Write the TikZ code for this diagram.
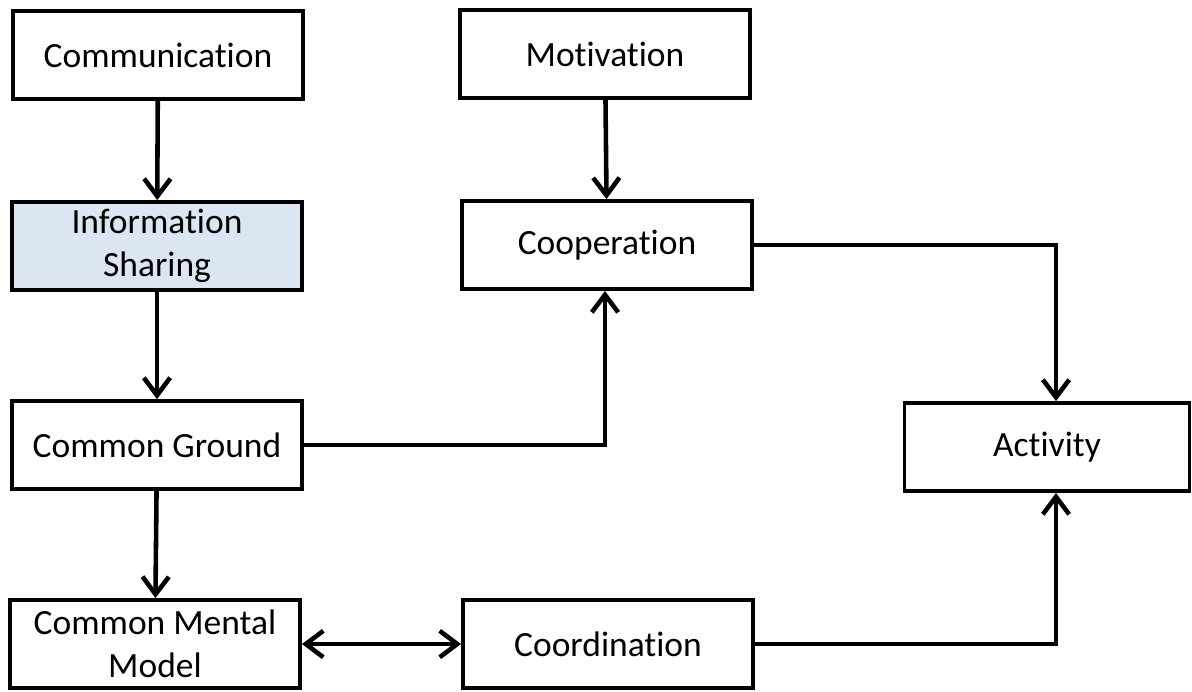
\documentclass[tikz,border=0pt]{standalone}
\usepackage{fontspec}
\setmainfont[Ligatures=NoCommon]{Carlito}
\usetikzlibrary{arrows.meta}
\tikzset{
    box/.style={rectangle,draw,line width=2.2pt,minimum width=5.8cm,minimum height=1.76cm,
        align=center,font=\fontsize{20.2}{24.5}\selectfont,inner sep=2pt},
    link/.style={line width=2.6pt,-{Straight Barb[length=10pt,width=15pt,line width=2.6pt]}},
    links/.style={line width=2.6pt,{Straight Barb[length=10pt,width=15pt,line width=2.6pt]}-{Straight Barb[length=10pt,width=15pt,line width=2.6pt]}}
}
\definecolor{sharefill}{HTML}{DCE6F2}
\begin{document}
\begin{tikzpicture}[x=0.02cm, y=-0.02cm]
    \useasboundingbox (0,0) rectangle (1192,691);
    % Left column
    \node[box] (comm) at (158,55) {Communication};
    \node[box,fill=sharefill] (share) at (157,246) {Information\\Sharing};
    \node[box] (ground) at (157,445) {Common Ground};
    \node[box] (mental) at (155,644) {Common Mental\\Model};
    % Middle column
    \node[box] (motiv) at (605,54) {Motivation};
    \node[box] (coop) at (607,245) {Cooperation};
    \node[box] (coord) at (608,644) {Coordination};
    % Right
    \node[box,minimum width=5.7cm] (act) at (1047,447) {Activity};
    % Edges
    \draw[link] (comm) -- (share);
    \draw[link] (share) -- (ground);
    \draw[link] (ground) -- (mental);
    \draw[link] (motiv) -- (coop);
    \draw[links] (mental) -- (coord);
    \draw[link] (ground.east) -| ([xshift=-0.04cm]coop.south);
    \draw[link] (coop.east) -| ([xshift=0.18cm]act.north);
    \draw[link] (coord.east) -| ([xshift=0.18cm]act.south);
\end{tikzpicture}
\end{document}
